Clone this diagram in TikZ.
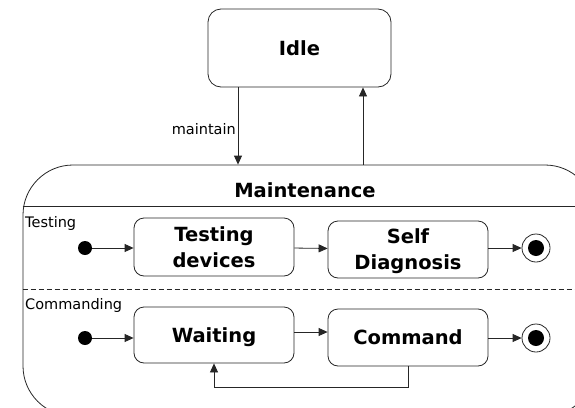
\documentclass[tikz,border=0pt]{standalone}
\usepackage{fontspec}
\setmainfont{DejaVu Sans}
\usetikzlibrary{arrows.meta}
\tikzset{
  ln/.style={line width=0.8pt, draw=black!85},
  arr/.style={ln, -{Triangle[length=9pt,width=8pt]}},
  statebox/.style={ln, rounded corners=10pt, minimum width=160pt, inner sep=2pt,
    align=center, text depth=0pt, font=\fontsize{19.5}{26}\selectfont\bfseries},
  small/.style={font=\fontsize{14.5}{17}\selectfont, inner sep=0pt},
  initdot/.style={circle, fill=black, minimum size=14pt, inner sep=0pt},
  finalring/.style={circle, ln, fill=white, minimum size=28pt, inner sep=0pt},
  finaldot/.style={circle, fill=black, minimum size=16pt, inner sep=0pt},
}
\begin{document}
\begin{tikzpicture}[x=1pt,y=-1pt]
\useasboundingbox (0,0) rectangle (575,407);
\clip (0,0) rectangle (575,407);
% outer composite state
\node[ln, rounded corners=50pt, minimum width=572pt, minimum height=251pt, inner sep=0pt] (maint) at (309,290.5) {};
\node[font=\fontsize{19.5}{24}\selectfont\bfseries, anchor=base, inner sep=0pt] (mtitle) at (305,197) {Maintenance};
\coordinate (sepA) at (0,206);
\coordinate (sepB) at (0,289);
\draw[ln] (maint.west |- sepA) -- (maint.east |- sepA);
\draw[ln, dash pattern=on 5pt off 3pt] (maint.west |- sepB) -- (maint.east |- sepB);
\node[small, anchor=base west] (lt) at (25,227) {Testing};
\node[small, anchor=base west] (lc) at (25,309) {Commanding};

% Idle
\node[ln, rounded corners=13pt, minimum width=183pt, minimum height=78pt, text depth=0pt,
  font=\fontsize{19.5}{24}\selectfont\bfseries] (idle) at (299.5,48) {Idle};
\coordinate (mx) at (238,0);
\coordinate (ux) at (363,0);
\draw[arr] (idle.south -| mx) -- (maint.north -| mx);
\draw[arr] (maint.north -| ux) -- (idle.south -| ux);
\node[small, anchor=east] (mlab) at (236,129) {maintain};

% Testing region
\node[statebox, minimum height=58pt] (td) at (214,247) {Testing\\devices};
\node[statebox, minimum height=57pt] (sd) at (408,249.5) {Self\\Diagnosis};
\node[initdot] (i1) at (85,248) {};
\node[finalring] (f1) at (536,248) {};
\node[finaldot] (f1d) at (536,248) {};
\draw[arr] (i1) -- (i1 -| td.west);
\draw[arr] (td) -- (sd);
\draw[arr] (sd.east |- f1) -- (f1);

% Commanding region
\node[statebox, minimum height=56pt] (wt) at (214,335) {Waiting};
\node[statebox, minimum height=57pt] (cm) at (408,337.5) {Command};
\node[initdot] (i2) at (85,338) {};
\node[finalring] (f2) at (536,338) {};
\node[finaldot] (f2d) at (536,338) {};
\draw[arr] (i2) -- (i2 -| wt.west);
\draw[arr] ([yshift=3pt]wt.east) -- ([yshift=3pt]wt.east -| cm.west);
\draw[arr] (cm.east |- f2) -- (f2);
\coordinate (loopy) at (0,387);
\draw[arr] (cm.south) -- (cm.south |- loopy) -| (wt.south);
\end{tikzpicture}
\end{document}
